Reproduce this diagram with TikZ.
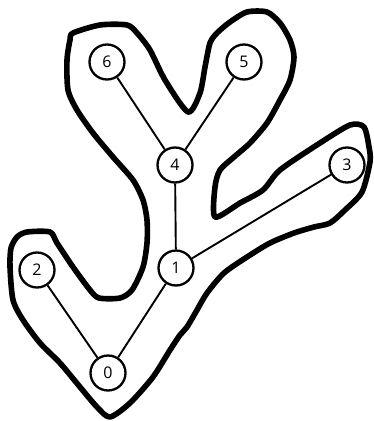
\documentclass[tikz,border=0pt]{standalone}
\usepackage{fontspec}
\setmainfont{Open Sans}
\begin{document}
\begin{tikzpicture}[x=1pt,y=-1pt,
  vert/.style={circle,draw,line width=2.3pt,fill=white,minimum size=35pt,inner sep=0pt,font=\fontsize{16}{16}\selectfont},
  edge/.style={line width=1.9pt},
  hull/.style={line width=5.6pt,line join=round}]
\useasboundingbox (0,0) rectangle (374,421);
\draw[hull] plot[smooth cycle,tension=0.45] coordinates {
(73,33) (100,25) (127,25) (137,33) (150,50) (165,80) (188,112) (200,93) (205,67) (210,43) (217,33) (230,22) (247,12) (267,12) (280,23) (290,40) (294,57) (290,80) (280,100) (267,123) (250,143) (234,157) (220,170) (215,187) (215,217) (240,203) (263,190) (280,170) (320,143) (350,125) (364,127) (369,147) (370,162) (362,192) (345,210) (330,223) (314,227) (294,233) (270,243) (247,257) (224,273) (207,293) (197,310) (187,327) (180,335) (170,350) (153,377) (130,403) (110,417) (97,407) (80,387) (60,363) (40,343) (23,320) (13,300) (10,267) (11,248) (17,237) (27,232) (50,232) (57,243) (73,267) (90,290) (99,298) (120,298) (132,290) (143,267) (147,243) (147,220) (143,200) (133,180) (113,157) (93,133) (77,110) (68,90) (67,60) (70,40)};
\node[vert] (n6) at (107,62) {6};
\node[vert] (n5) at (244,62) {5};
\node[vert] (n4) at (175,165) {4};
\node[vert] (n3) at (347,165) {3};
\node[vert] (n2) at (37,270) {2};
\node[vert] (n1) at (176,268) {1};
\node[vert] (n0) at (108,373) {0};
\draw[edge] (n6) -- (n4);
\draw[edge] (n5) -- (n4);
\draw[edge] (n4) -- (n1);
\draw[edge] (n3) -- (n1);
\draw[edge] (n1) -- (n0);
\draw[edge] (n2) -- (n0);
\end{tikzpicture}
\end{document}
